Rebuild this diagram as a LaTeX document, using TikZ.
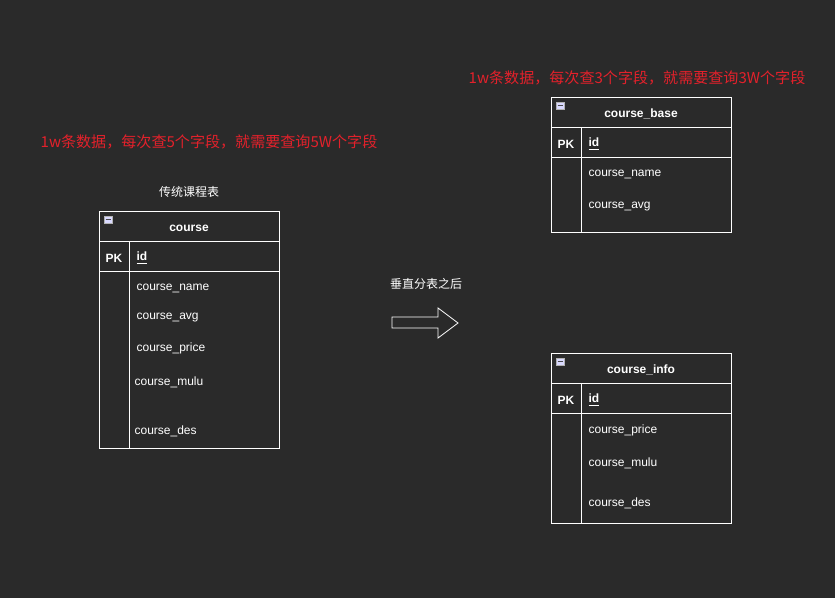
\documentclass[tikz,border=0pt]{standalone}
\usepackage{fontspec}
\setmainfont{Liberation Sans}
\newfontfamily\cjk{Noto Sans CJK SC}
\definecolor{bgdark}{HTML}{2A2A2A}
\definecolor{notered}{HTML}{E3212B}
\begin{document}
\begin{tikzpicture}[x=0.75pt,y=-0.75pt,
    every node/.style={font=\fontsize{9pt}{11pt}\selectfont,text=white,inner sep=1pt,yshift=-1.5pt},
    tblline/.style={draw=white,line width=0.6pt},
    title/.style={font=\fontsize{9pt}{11pt}\selectfont\bfseries},
    field/.style={anchor=west},
    pk/.style={font=\fontsize{9pt}{11pt}\selectfont\bfseries},
    note/.style={font=\cjk\fontsize{11.3pt}{13pt}\selectfont,text=notered},
    caption/.style={font=\cjk\fontsize{9pt}{11pt}\selectfont},
    icon/.style={draw=gray!60,fill=white!85!blue,line width=0.4pt},
]
\fill[bgdark] (0,0) rectangle (835,598);
\useasboundingbox (0,0) rectangle (835,598);

% table frames: left x / top y / bottom y
\foreach \tx/\ty/\tb in {99/211/448, 551/97/232, 551/353/523}{
  \draw[tblline] (\tx,\ty) rectangle (\tx+180,\tb);
  \draw[tblline] (\tx,\ty+30) -- (\tx+180,\ty+30);
  \draw[tblline] (\tx,\ty+60) -- (\tx+180,\ty+60);
  \draw[tblline] (\tx+30,\ty+30) -- (\tx+30,\tb);
  \draw[icon] (\tx+5,\ty+5) rectangle (\tx+13,\ty+12);
  \draw[black!70,line width=0.8pt] (\tx+6.5,\ty+8.5) -- (\tx+11.5,\ty+8.5);
}

% traditional table
\node[caption] (capOld) at (189,190) {传统课程表};
\node[title] (course) at (189,226) {course};
\node[pk] (coursePK) at (114,256) {PK};
\node[pk,field] (courseId) at (135,256) {\underline{id}};
\node[field] (cName) at (135,286) {course\_name};
\node[field] (cAvg) at (135,316) {course\_avg};
\node[field] (cPrice) at (135,346) {course\_price};
\node[field] (cMulu) at (133,380) {course\_mulu};
\node[field] (cDes) at (133,429) {course\_des};
\node[note] (noteOld) at (209,140) {1w条数据，每次查5个字段，就需要查询5W个字段};

% arrow
\node[caption] (capSplit) at (426,282) {垂直分表之后};
\draw[white,line width=0.6pt,line join=miter] (392,317) -- (438,317) -- (438,308) -- (458,323)
  -- (438,338) -- (438,328) -- (392,328) -- cycle;

% course_base
\node[note] (noteBase) at (637,76) {1w条数据，每次查3个字段，就需要查询3W个字段};
\node[title] (base) at (641,112) {course\_base};
\node[pk] (basePK) at (566,142) {PK};
\node[pk,field] (baseId) at (587,142) {\underline{id}};
\node[field] (bName) at (587,172) {course\_name};
\node[field] (bAvg) at (587,205) {course\_avg};

% course_info
\node[title] (info) at (641,368) {course\_info};
\node[pk] (infoPK) at (566,398) {PK};
\node[pk,field] (infoId) at (587,398) {\underline{id}};
\node[field] (iPrice) at (587,428) {course\_price};
\node[field] (iMulu) at (587,461) {course\_mulu};
\node[field] (iDes) at (587,501) {course\_des};
\end{tikzpicture}
\end{document}
